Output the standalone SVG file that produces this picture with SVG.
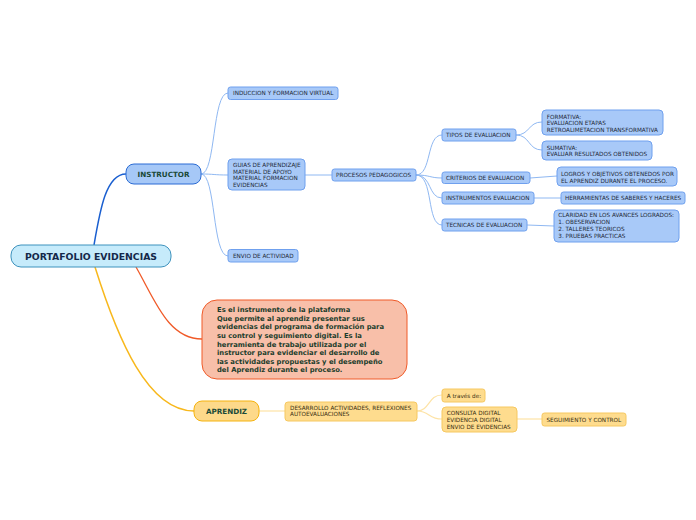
<svg xmlns="http://www.w3.org/2000/svg" width="696" height="520" viewBox="0 0 696 520">
<style>
text{font-family:"DejaVu Sans","Verdana",sans-serif;}
.s{font-size:5.7px;fill:#1f2a38;}
.sy{font-size:5.7px;fill:#3a2f12;}
.b{fill:#a8c9f8;stroke:#6fa0ee;stroke-width:1;}
.y{fill:#fedc8e;stroke:#f6c860;stroke-width:1;}
.lb{fill:none;stroke:#8fb8f2;stroke-width:1;}
.ly{fill:none;stroke:#fde3a6;stroke-width:1.2;}
.title{font-weight:bold;fill:#1b4a38;}
</style>
<rect width="696" height="520" fill="#ffffff"/>
<g id="connectors">
<path d="M94,245 C100,210 106,174 126,174" fill="none" stroke="#1a5fd0" stroke-width="1.5"/>
<path d="M136,267 C155,300 168,339 202,339" fill="none" stroke="#f05a28" stroke-width="1.3"/>
<path d="M95,267 C118,340 148,411 194,411" fill="none" stroke="#f8b81c" stroke-width="1.5"/>
<path class="lb" d="M201,174 C216,174 212,93 228,93"/>
<path class="lb" d="M201,174 C214,174 214,175 228,175"/>
<path class="lb" d="M201,174 C216,174 212,256 228,256"/>
<path class="lb" d="M305,175 L332,175"/>
<path class="lb" d="M416,175 C432,175 426,135 442,135"/>
<path class="lb" d="M416,175 C430,175 430,178 442,178"/>
<path class="lb" d="M416,175 C432,175 428,198 442,198"/>
<path class="lb" d="M416,175 C434,175 426,225 442,225"/>
<path class="lb" d="M516,135 C530,135 528,122 542,122"/>
<path class="lb" d="M516,135 C530,135 528,150 542,150"/>
<path class="lb" d="M530,178 L557,176"/>
<path class="lb" d="M534,198 L561,198"/>
<path class="lb" d="M527,225 L554,226"/>
<path class="ly" d="M259,411 L285,411"/>
<path class="ly" d="M417,411 C430,411 428,395 442,395"/>
<path class="ly" d="M417,411 C430,411 428,419 442,419"/>
<path class="ly" d="M517,419 L542,419"/>
</g>
<g id="root">
<rect x="11" y="245" width="160" height="22" rx="10" fill="#c6ebfb" stroke="#3d92bd" stroke-width="1"/>
<text x="91" y="260.3" font-size="9.3" font-weight="bold" fill="#14284a" text-anchor="middle">PORTAFOLIO EVIDENCIAS</text>
</g>
<g id="instructor">
<rect x="126" y="164" width="75" height="20" rx="8" fill="#a6c8f7" stroke="#2a6bd4" stroke-width="1"/>
<text class="title" x="163.5" y="176.7" font-size="7.2" text-anchor="middle">INSTRUCTOR</text>
</g>
<g id="induccion">
<rect class="b" x="228" y="87" width="110" height="12.5" rx="2.5"/>
<text class="s" x="233" y="95.3">INDUCCION Y FORMACION VIRTUAL</text>
</g>
<g id="guias">
<rect class="b" x="228" y="159" width="77" height="31" rx="4"/>
<text class="s" x="233" y="167">GUIAS DE APRENDIZAJE</text>
<text class="s" x="233" y="173.7">MATERIAL DE APOYO</text>
<text class="s" x="233" y="180.3">MATERIAL FORMACION</text>
<text class="s" x="233" y="187">EVIDENCIAS</text>
</g>
<g id="envio">
<rect class="b" x="228" y="249.5" width="70" height="12.5" rx="2.5"/>
<text class="s" x="233" y="257.8">ENVIO DE ACTIVIDAD</text>
</g>
<g id="procesos">
<rect class="b" x="332" y="169" width="84" height="12" rx="2.5"/>
<text class="s" x="336" y="177.1">PROCESOS PEDAGOGICOS</text>
</g>
<g id="tipos">
<rect class="b" x="442" y="129" width="74" height="12" rx="2.5"/>
<text class="s" x="446" y="137.1">TIPOS DE EVALUACION</text>
</g>
<g id="criterios">
<rect class="b" x="442" y="172" width="88" height="11.5" rx="2.5"/>
<text class="s" x="446" y="179.9">CRITERIOS DE EVALUACION</text>
</g>
<g id="instrumentos">
<rect class="b" x="442" y="192" width="92" height="12" rx="2.5"/>
<text class="s" x="446" y="200.1">INSTRUMENTOS EVALUACION</text>
</g>
<g id="tecnicas">
<rect class="b" x="442" y="219" width="85" height="12" rx="2.5"/>
<text class="s" x="446" y="227.1">TECNICAS DE EVALUACION</text>
</g>
<g id="formativa">
<rect class="b" x="542" y="110" width="121" height="25" rx="4"/>
<text class="s" x="546.7" y="118.7">FORMATIVA:</text>
<text class="s" x="546.7" y="125.3">EVALUACION ETAPAS</text>
<text class="s" x="546.7" y="132">RETROALIMETACION TRANSFORMATIVA</text>
</g>
<g id="sumativa">
<rect class="b" x="542" y="141" width="110" height="19" rx="4"/>
<text class="s" x="546.7" y="149.6">SUMATIVA:</text>
<text class="s" x="546.7" y="156">EVALUAR RESULTADOS OBTENIDOS</text>
</g>
<g id="logros">
<rect class="b" x="557" y="167" width="120" height="19" rx="4"/>
<text class="s" x="561" y="176.3">LOGROS Y OBJETIVOS OBTENEDOS POR</text>
<text class="s" x="561" y="183">EL APRENDIZ DURANTE EL PROCESO.</text>
</g>
<g id="herramientas">
<rect class="b" x="561" y="192" width="124" height="12" rx="2.5"/>
<text class="s" x="565" y="200.1">HERRAMIENTAS DE SABERES Y HACERES</text>
</g>
<g id="claridad">
<rect class="b" x="554" y="210" width="125" height="32" rx="4"/>
<text class="s" x="558.3" y="217">CLARIDAD EN LOS AVANCES LOGRADOS:</text>
<text class="s" x="558.3" y="224.3">1. OBESERVACION</text>
<text class="s" x="558.3" y="231">2. TALLERES TEORICOS</text>
<text class="s" x="558.3" y="237.7">3. PRUEBAS PRACTICAS</text>
</g>
<g id="descripcion">
<rect x="202" y="300" width="205" height="79" rx="15" fill="#f8bfa9" stroke="#f05a28" stroke-width="1"/>
<g font-size="6.8" font-weight="bold" fill="#1b3d2c">
<text x="217" y="312.3">Es el instrumento de la plataforma</text>
<text x="217" y="320.9">Que permite al aprendiz presentar sus</text>
<text x="217" y="329.4">evidencias del programa de formación para</text>
<text x="217" y="338">su control y seguimiento digital. Es la</text>
<text x="217" y="346.6">herramienta de trabajo utilizada por el</text>
<text x="217" y="355.1">instructor para evidenciar el desarrollo de</text>
<text x="217" y="363.7">las actividades propuestas y el desempeño</text>
<text x="217" y="372.3">del Aprendiz durante el proceso.</text>
</g>
</g>
<g id="aprendiz">
<rect x="194" y="401" width="65" height="20" rx="8" fill="#fdd98a" stroke="#f5b30f" stroke-width="1"/>
<text class="title" x="226.5" y="413.6" font-size="7.2" text-anchor="middle">APRENDIZ</text>
</g>
<g id="desarrollo">
<rect class="y" x="285" y="402" width="132" height="19" rx="3"/>
<text class="sy" x="290" y="409.7">DESARROLLO ACTIVIDADES, REFLEXIONES</text>
<text class="sy" x="290" y="416.4">AUTOEVALUACIONES</text>
</g>
<g id="atraves">
<rect class="y" x="442" y="389" width="43" height="13" rx="2.5"/>
<text class="sy" x="446.7" y="397.6">A través de:</text>
</g>
<g id="consulta">
<rect class="y" x="442" y="407" width="75" height="25" rx="4"/>
<text class="sy" x="446.7" y="415.4">CONSULTA DIGITAL</text>
<text class="sy" x="446.7" y="422.1">EVIDENCIA DIGITAL</text>
<text class="sy" x="446.7" y="428.8">ENVIO DE EVIDENCIAS</text>
</g>
<g id="seguimiento">
<rect class="y" x="542" y="413" width="84" height="13" rx="2.5"/>
<text class="sy" x="546.5" y="421.6">SEGUIMIENTO Y CONTROL</text>
</g>
</svg>
